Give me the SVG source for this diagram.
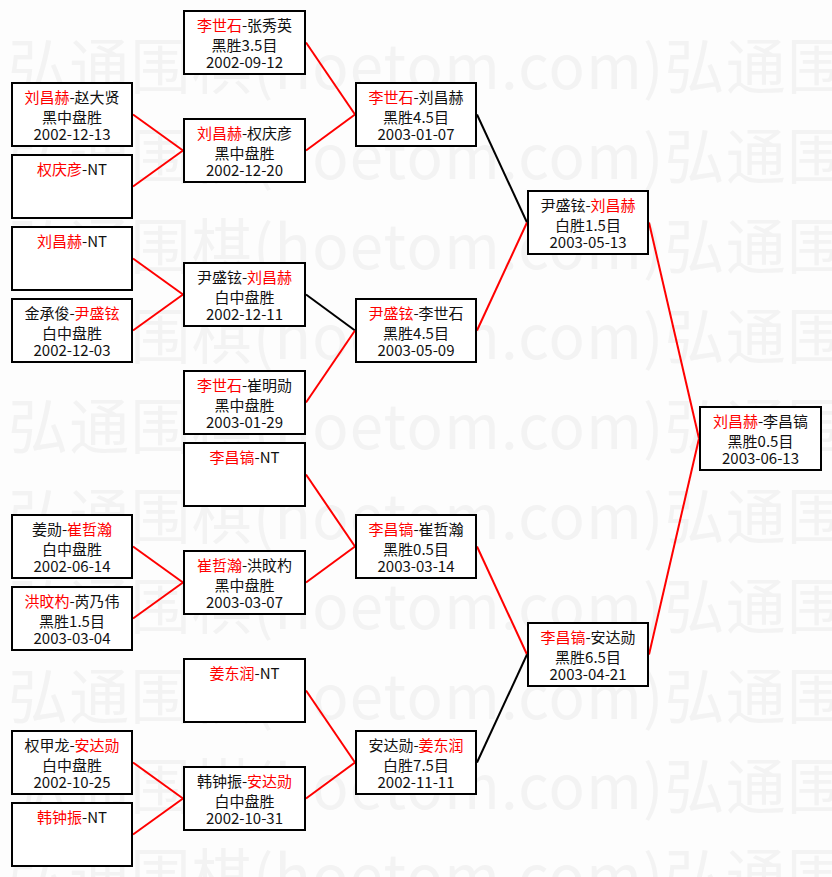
<svg xmlns="http://www.w3.org/2000/svg" width="832" height="877" viewBox="0 0 832 877">
<style>
.bg{fill:#fdfdfd}
.wm{font-family:"Noto Sans CJK SC",sans-serif;font-size:60px;fill:#f3f3f3}
.box{fill:#fff;stroke:#000;stroke-width:2}
.t{font-family:"Noto Sans CJK SC",sans-serif;font-size:15px;text-anchor:middle;fill:#111}
.r{fill:#f00}
.lr{stroke:#f00;stroke-width:2;fill:none}
.lb{stroke:#000;stroke-width:2;fill:none}
</style>
<rect class="bg" x="0" y="0" width="832" height="877"/>
<g id="watermark">
<text class="wm" x="8" y="89" textLength="839" lengthAdjust="spacing">弘通围棋(hoetom.com)弘通围</text>
<text class="wm" x="8" y="179" textLength="839" lengthAdjust="spacing">弘通围棋(hoetom.com)弘通围</text>
<text class="wm" x="8" y="269" textLength="839" lengthAdjust="spacing">弘通围棋(hoetom.com)弘通围</text>
<text class="wm" x="8" y="359" textLength="839" lengthAdjust="spacing">弘通围棋(hoetom.com)弘通围</text>
<text class="wm" x="8" y="449" textLength="839" lengthAdjust="spacing">弘通围棋(hoetom.com)弘通围</text>
<text class="wm" x="8" y="539" textLength="839" lengthAdjust="spacing">弘通围棋(hoetom.com)弘通围</text>
<text class="wm" x="8" y="629" textLength="839" lengthAdjust="spacing">弘通围棋(hoetom.com)弘通围</text>
<text class="wm" x="8" y="719" textLength="839" lengthAdjust="spacing">弘通围棋(hoetom.com)弘通围</text>
<text class="wm" x="8" y="809" textLength="839" lengthAdjust="spacing">弘通围棋(hoetom.com)弘通围</text>
<text class="wm" x="8" y="899" textLength="839" lengthAdjust="spacing">弘通围棋(hoetom.com)弘通围</text>
</g>
<g id="connectors">
<line class="lr" x1="133" y1="114.5" x2="183" y2="150.5"/>
<line class="lr" x1="133" y1="186.5" x2="183" y2="150.5"/>
<line class="lr" x1="133" y1="258.5" x2="183" y2="294.5"/>
<line class="lr" x1="133" y1="330.5" x2="183" y2="294.5"/>
<line class="lr" x1="133" y1="546.5" x2="183" y2="582.5"/>
<line class="lr" x1="133" y1="618.5" x2="183" y2="582.5"/>
<line class="lr" x1="133" y1="762.5" x2="183" y2="798.5"/>
<line class="lr" x1="133" y1="834.5" x2="183" y2="798.5"/>
<line class="lr" x1="306" y1="42.5" x2="355" y2="114.5"/>
<line class="lr" x1="306" y1="150.5" x2="355" y2="114.5"/>
<line class="lb" x1="306" y1="294.5" x2="355" y2="330.5"/>
<line class="lr" x1="306" y1="402.5" x2="355" y2="330.5"/>
<line class="lr" x1="306" y1="474.5" x2="355" y2="546.5"/>
<line class="lr" x1="306" y1="582.5" x2="355" y2="546.5"/>
<line class="lr" x1="306" y1="690.5" x2="355" y2="762.5"/>
<line class="lr" x1="306" y1="798.5" x2="355" y2="762.5"/>
<line class="lb" x1="477" y1="114.5" x2="527" y2="222.5"/>
<line class="lr" x1="477" y1="330.5" x2="527" y2="222.5"/>
<line class="lr" x1="477" y1="546.5" x2="527" y2="654.5"/>
<line class="lb" x1="477" y1="762.5" x2="527" y2="654.5"/>
<line class="lr" x1="649" y1="222.5" x2="699" y2="438.5"/>
<line class="lr" x1="649" y1="654.5" x2="699" y2="438.5"/>
</g>
<!-- column 1 -->
<g id="n-c1-1"><rect class="box" x="12" y="83" width="120" height="63"/>
<text class="t" x="72" y="102.5"><tspan class="r">刘昌赫</tspan>-赵大贤</text><text class="t" x="72" y="122.5">黑中盘胜</text><text class="t" x="72" y="140">2002-12-13</text></g>
<g id="n-c1-2"><rect class="box" x="12" y="155" width="120" height="63"/>
<text class="t" x="72" y="174.5"><tspan class="r">权庆彦</tspan>-NT</text></g>
<g id="n-c1-3"><rect class="box" x="12" y="227" width="120" height="63"/>
<text class="t" x="72" y="246.5"><tspan class="r">刘昌赫</tspan>-NT</text></g>
<g id="n-c1-4"><rect class="box" x="12" y="299" width="120" height="63"/>
<text class="t" x="72" y="318.5">金承俊-<tspan class="r">尹盛铉</tspan></text><text class="t" x="72" y="338.5">白中盘胜</text><text class="t" x="72" y="356">2002-12-03</text></g>
<g id="n-c1-5"><rect class="box" x="12" y="515" width="120" height="63"/>
<text class="t" x="72" y="534.5">姜勋-<tspan class="r">崔哲瀚</tspan></text><text class="t" x="72" y="554.5">白中盘胜</text><text class="t" x="72" y="572">2002-06-14</text></g>
<g id="n-c1-6"><rect class="box" x="12" y="587" width="120" height="63"/>
<text class="t" x="72" y="606.5"><tspan class="r">洪旼杓</tspan>-芮乃伟</text><text class="t" x="72" y="626.5">黑胜1.5目</text><text class="t" x="72" y="644">2003-03-04</text></g>
<g id="n-c1-7"><rect class="box" x="12" y="731" width="120" height="63"/>
<text class="t" x="72" y="750.5">权甲龙-<tspan class="r">安达勋</tspan></text><text class="t" x="72" y="770.5">白中盘胜</text><text class="t" x="72" y="788">2002-10-25</text></g>
<g id="n-c1-8"><rect class="box" x="12" y="803" width="120" height="63"/>
<text class="t" x="72" y="822.5"><tspan class="r">韩钟振</tspan>-NT</text></g>
<!-- column 2 -->
<g id="n-c2-1"><rect class="box" x="184" y="11" width="121" height="63"/>
<text class="t" x="244.5" y="30.5"><tspan class="r">李世石</tspan>-张秀英</text><text class="t" x="244.5" y="50.5">黑胜3.5目</text><text class="t" x="244.5" y="68">2002-09-12</text></g>
<g id="n-c2-2"><rect class="box" x="184" y="119" width="121" height="63"/>
<text class="t" x="244.5" y="138.5"><tspan class="r">刘昌赫</tspan>-权庆彦</text><text class="t" x="244.5" y="158.5">黑中盘胜</text><text class="t" x="244.5" y="176">2002-12-20</text></g>
<g id="n-c2-3"><rect class="box" x="184" y="263" width="121" height="63"/>
<text class="t" x="244.5" y="282.5">尹盛铉-<tspan class="r">刘昌赫</tspan></text><text class="t" x="244.5" y="302.5">白中盘胜</text><text class="t" x="244.5" y="320">2002-12-11</text></g>
<g id="n-c2-4"><rect class="box" x="184" y="371" width="121" height="63"/>
<text class="t" x="244.5" y="390.5"><tspan class="r">李世石</tspan>-崔明勋</text><text class="t" x="244.5" y="410.5">黑中盘胜</text><text class="t" x="244.5" y="428">2003-01-29</text></g>
<g id="n-c2-5"><rect class="box" x="184" y="443" width="121" height="63"/>
<text class="t" x="244.5" y="462.5"><tspan class="r">李昌镐</tspan>-NT</text></g>
<g id="n-c2-6"><rect class="box" x="184" y="551" width="121" height="63"/>
<text class="t" x="244.5" y="570.5"><tspan class="r">崔哲瀚</tspan>-洪旼杓</text><text class="t" x="244.5" y="590.5">黑中盘胜</text><text class="t" x="244.5" y="608">2003-03-07</text></g>
<g id="n-c2-7"><rect class="box" x="184" y="659" width="121" height="63"/>
<text class="t" x="244.5" y="678.5"><tspan class="r">姜东润</tspan>-NT</text></g>
<g id="n-c2-8"><rect class="box" x="184" y="767" width="121" height="63"/>
<text class="t" x="244.5" y="786.5">韩钟振-<tspan class="r">安达勋</tspan></text><text class="t" x="244.5" y="806.5">白中盘胜</text><text class="t" x="244.5" y="824">2002-10-31</text></g>
<!-- column 3 -->
<g id="n-c3-1"><rect class="box" x="356" y="83" width="120" height="63"/>
<text class="t" x="416" y="102.5"><tspan class="r">李世石</tspan>-刘昌赫</text><text class="t" x="416" y="122.5">黑胜4.5目</text><text class="t" x="416" y="140">2003-01-07</text></g>
<g id="n-c3-2"><rect class="box" x="356" y="299" width="120" height="63"/>
<text class="t" x="416" y="318.5"><tspan class="r">尹盛铉</tspan>-李世石</text><text class="t" x="416" y="338.5">黑胜4.5目</text><text class="t" x="416" y="356">2003-05-09</text></g>
<g id="n-c3-3"><rect class="box" x="356" y="515" width="120" height="63"/>
<text class="t" x="416" y="534.5"><tspan class="r">李昌镐</tspan>-崔哲瀚</text><text class="t" x="416" y="554.5">黑胜0.5目</text><text class="t" x="416" y="572">2003-03-14</text></g>
<g id="n-c3-4"><rect class="box" x="356" y="731" width="120" height="63"/>
<text class="t" x="416" y="750.5">安达勋-<tspan class="r">姜东润</tspan></text><text class="t" x="416" y="770.5">白胜7.5目</text><text class="t" x="416" y="788">2002-11-11</text></g>
<!-- column 4 -->
<g id="n-c4-1"><rect class="box" x="528" y="191" width="120" height="63"/>
<text class="t" x="588" y="210.5">尹盛铉-<tspan class="r">刘昌赫</tspan></text><text class="t" x="588" y="230.5">白胜1.5目</text><text class="t" x="588" y="248">2003-05-13</text></g>
<g id="n-c4-2"><rect class="box" x="528" y="623" width="120" height="63"/>
<text class="t" x="588" y="642.5"><tspan class="r">李昌镐</tspan>-安达勋</text><text class="t" x="588" y="662.5">黑胜6.5目</text><text class="t" x="588" y="680">2003-04-21</text></g>
<!-- final -->
<g id="n-final"><rect class="box" x="700" y="407" width="121" height="63"/>
<text class="t" x="760.5" y="426.5"><tspan class="r">刘昌赫</tspan>-李昌镐</text><text class="t" x="760.5" y="446.5">黑胜0.5目</text><text class="t" x="760.5" y="464">2003-06-13</text></g>
</svg>
